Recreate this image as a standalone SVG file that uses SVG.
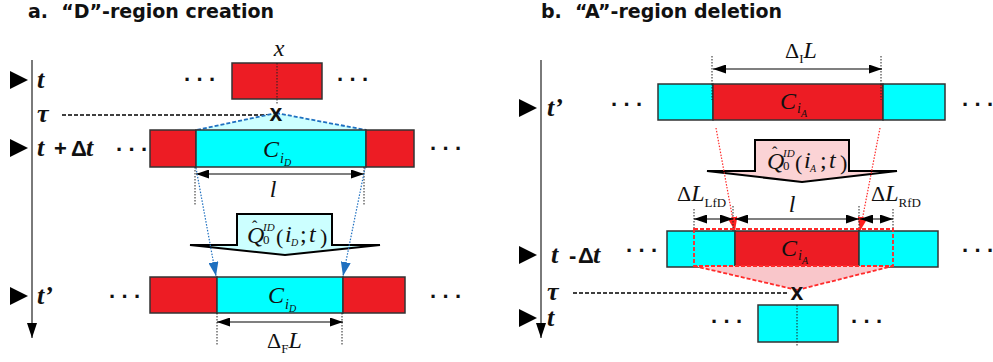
<svg xmlns="http://www.w3.org/2000/svg" width="993" height="362" viewBox="0 0 993 362">
  <style>
    .title { font-family: "DejaVu Sans", "Liberation Sans", sans-serif; font-weight: bold; font-size: 19px; fill: #111; }
    .tl { font-family: "Liberation Serif", serif; font-weight: bold; font-style: italic; font-size: 26px; fill: #111; }
    .op { font-family: "Liberation Sans", sans-serif; font-weight: bold; font-size: 22px; fill: #111; }
    .m { font-family: "Liberation Serif", serif; font-style: italic; font-size: 24px; fill: #111; }
    .up { font-family: "Liberation Serif", serif; font-size: 22px; fill: #111; }
    .dots { font-family: "Liberation Sans", sans-serif; font-weight: bold; font-size: 22px; letter-spacing: -0.5px; fill: #111; }
    .cross { font-family: "Liberation Sans", sans-serif; font-weight: bold; font-size: 23px; fill: #111; text-anchor: middle; }
    .red { fill: #ed1c24; stroke: #333; stroke-width: 1.5; }
    .cyan { fill: #00ffff; stroke: #333; stroke-width: 1.5; }
    .axis { stroke: #7a7a7a; stroke-width: 2; fill: none; }
    .tick { fill: #000; }
    .dim { stroke: #000; stroke-width: 1.2; fill: none; }
    .ext { stroke: #222; stroke-width: 1; stroke-dasharray: 1.5 1.5; fill: none; }
    .tau { stroke: #000; stroke-width: 1.5; stroke-dasharray: 4 2; fill: none; }
    .bdash { stroke: #1f70c0; stroke-width: 1.8; stroke-dasharray: 4 2; }
    .bdot { stroke: #1f70c0; stroke-width: 1.2; stroke-dasharray: 1.5 1.5; fill: none; }
    .rdash { stroke: #ff2a2a; stroke-width: 1.8; stroke-dasharray: 4 2; }
    .rdot { stroke: #ff2a2a; stroke-width: 1.2; stroke-dasharray: 1.5 1.5; fill: none; }
    .block { stroke: #000; stroke-width: 2; stroke-linejoin: miter; }
  </style>
  <defs>
    <marker id="ah" viewBox="0 0 13 9" refX="13" refY="4.5" markerWidth="13" markerHeight="9" markerUnits="userSpaceOnUse" orient="auto-start-reverse">
      <path d="M0,0 L13,4.5 L0,9 Z" fill="#000"/>
    </marker>
    <marker id="bh" viewBox="0 0 14 10" refX="14" refY="5" markerWidth="14" markerHeight="10" markerUnits="userSpaceOnUse" orient="auto">
      <path d="M0,0 L14,5 L0,10 Z" fill="#1f70c0"/>
    </marker>
    <marker id="rh" viewBox="0 0 14 10" refX="14" refY="5" markerWidth="14" markerHeight="10" markerUnits="userSpaceOnUse" orient="auto">
      <path d="M0,0 L14,5 L0,10 Z" fill="#ff2020"/>
    </marker>
    <marker id="axh" viewBox="0 0 10 15" refX="5" refY="15" markerWidth="10" markerHeight="15" markerUnits="userSpaceOnUse" orient="0">
      <path d="M0,0 L10,0 L5,15 Z" fill="#000"/>
    </marker>
  </defs>

  <!-- ===== Panel a: D-region creation ===== -->
  <text class="title" x="28" y="18" xml:space="preserve">a.  “D”-region creation</text>

  <g id="a-timeline">
    <line class="axis" x1="32" y1="60" x2="32" y2="338" marker-end="url(#axh)"/>
    <path class="tick" d="M10,71 L28,80 L10,89 Z"/>
    <path class="tick" d="M10,139 L28,148 L10,157 Z"/>
    <path class="tick" d="M10,287 L28,296 L10,305 Z"/>
    <text class="tl" x="37" y="88">t</text>
    <text class="tl" x="37" y="122">τ</text>
    <text x="37" y="156"><tspan class="tl">t</tspan><tspan class="op" x="54">+</tspan><tspan class="op" x="71">Δ</tspan><tspan class="tl" x="86">t</tspan></text>
    <text class="tl" x="37" y="304">t’</text>
  </g>

  <!-- row t -->
  <g id="a-row-t">
    <rect class="red" x="232" y="63" width="90" height="36"/>
    <line class="ext" x1="277" y1="63" x2="277" y2="104"/>
    <text class="m" x="279" y="56" text-anchor="middle" font-size="20">x</text>
    <text class="dots" x="184" y="87">· · ·</text>
    <text class="dots" x="337" y="87">· · ·</text>
  </g>

  <!-- tau cut and the cyan spread triangle -->
  <g id="a-tau">
    <line class="tau" x1="62" y1="115" x2="268" y2="115"/>
    <path d="M197,130 L276,113 L366,130 Z" fill="#ccffff"/>
    <line class="bdash" x1="197" y1="130" x2="276" y2="113"/>
    <line class="bdash" x1="276" y1="113" x2="366" y2="130"/>
    <text class="cross" x="276" y="121">x</text>
  </g>

  <!-- row t + Δt -->
  <g id="a-row-tdt">
    <rect class="red" x="150" y="130" width="46" height="37"/>
    <rect class="cyan" x="196" y="130" width="170" height="37"/>
    <rect class="red" x="366" y="130" width="48" height="37"/>
    <text class="m" x="263" y="157">C<tspan font-size="14" dx="1" dy="6">i</tspan><tspan font-size="10" dy="3">D</tspan></text>
    <text class="dots" x="116" y="157">· · ·</text>
    <text class="dots" x="430" y="156">· · ·</text>
  </g>

  <!-- length l -->
  <g id="a-dim-l">
    <line class="ext" x1="195" y1="167" x2="195" y2="206"/>
    <line class="ext" x1="364" y1="167" x2="364" y2="206"/>
    <line class="dim" x1="196" y1="174" x2="364" y2="174" marker-start="url(#ah)" marker-end="url(#ah)"/>
    <text class="m" x="273" y="197" text-anchor="middle">l</text>
  </g>

  <!-- operator block arrow -->
  <g id="a-operator">
    <path class="block" d="M190,245 L237,245 L237,214 L332,214 L332,245 L380,245 L285,255 Z" fill="#ccffff"/>
    <text class="m" font-size="21">
      <tspan x="247" y="243">Q</tspan>
      <tspan x="252" y="232" font-style="normal" font-size="16">ˆ</tspan>
      <tspan x="263" y="231" font-size="11">ID</tspan>
      <tspan x="263" y="244" font-style="normal" font-size="13">0</tspan>
      <tspan x="276" y="244" font-style="normal" font-size="22">(</tspan>
      <tspan x="285" y="242">i</tspan>
      <tspan x="291" y="246" font-size="10">D</tspan>
      <tspan x="300" y="242" font-style="normal">;</tspan>
      <tspan x="309" y="242">t</tspan>
      <tspan x="320" y="244" font-style="normal" font-size="22">)</tspan>
    </text>
  </g>

  <!-- boundary mapping -->
  <g id="a-connectors">
    <line class="bdot" x1="196" y1="168" x2="216" y2="276" marker-end="url(#bh)"/>
    <line class="bdot" x1="365" y1="168" x2="343" y2="276" marker-end="url(#bh)"/>
  </g>

  <!-- row t' -->
  <g id="a-row-tp">
    <rect class="red" x="150" y="277" width="67" height="36"/>
    <rect class="cyan" x="217" y="277" width="126" height="36"/>
    <rect class="red" x="343" y="277" width="62" height="36"/>
    <text class="m" x="268" y="303">C<tspan font-size="14" dx="1" dy="6">i</tspan><tspan font-size="10" dy="3">D</tspan></text>
    <text class="dots" x="109" y="304">· · ·</text>
    <text class="dots" x="430" y="304">· · ·</text>
  </g>

  <!-- length Δ_F L -->
  <g id="a-dim-dfl">
    <line class="ext" x1="217" y1="313" x2="217" y2="346"/>
    <line class="ext" x1="342" y1="313" x2="342" y2="346"/>
    <line class="dim" x1="217" y1="322" x2="343" y2="322" marker-start="url(#ah)" marker-end="url(#ah)"/>
    <text class="up" x="267" y="348">Δ<tspan font-size="13" dy="5">F</tspan><tspan class="m" font-size="23" dy="-5">L</tspan></text>
  </g>

  <!-- ===== Panel b: A-region deletion ===== -->
  <text class="title" x="541" y="18" xml:space="preserve">b.  “A”-region deletion</text>

  <g id="b-timeline">
    <line class="axis" x1="541" y1="60" x2="541" y2="338" marker-end="url(#axh)"/>
    <path class="tick" d="M519,99 L537,108 L519,117 Z"/>
    <path class="tick" d="M519,246 L537,255 L519,264 Z"/>
    <path class="tick" d="M519,309 L537,318 L519,327 Z"/>
    <text class="tl" x="547" y="116">t’</text>
    <text x="551" y="263"><tspan class="tl">t</tspan><tspan class="op" x="569">-</tspan><tspan class="op" x="578">Δ</tspan><tspan class="tl" x="593">t</tspan></text>
    <text class="tl" x="547" y="300">τ</text>
    <text class="tl" x="547" y="326">t</text>
  </g>

  <!-- length Δ_I L -->
  <g id="b-dim-dil">
    <line class="ext" x1="712" y1="56" x2="712" y2="100"/>
    <line class="ext" x1="881" y1="56" x2="881" y2="100"/>
    <line class="dim" x1="713" y1="69" x2="882" y2="69" marker-start="url(#ah)" marker-end="url(#ah)"/>
    <text class="up" x="785" y="58">Δ<tspan font-size="13" dy="5">I</tspan><tspan class="m" font-size="23" dy="-5">L</tspan></text>
  </g>

  <!-- row t' -->
  <g id="b-row-tp">
    <rect class="cyan" x="658" y="84" width="55" height="36"/>
    <rect class="red" x="713" y="84" width="170" height="36"/>
    <rect class="cyan" x="883" y="84" width="62" height="36"/>
    <line class="ext" x1="712" y1="84" x2="712" y2="100"/>
    <line class="ext" x1="881" y1="84" x2="881" y2="100"/>
    <text class="m" x="780" y="109">C<tspan font-size="14" dx="1" dy="4">i</tspan><tspan font-size="10" dy="4">A</tspan></text>
    <text class="dots" x="611" y="112">· · ·</text>
    <text class="dots" x="962" y="112">· · ·</text>
  </g>

  <!-- operator block arrow -->
  <g id="b-operator">
    <path class="block" d="M707,171 L755,171 L755,140 L849,140 L849,171 L897,171 L802,182 Z" fill="#fbd3d5"/>
    <text class="m" font-size="21">
      <tspan x="767" y="169">Q</tspan>
      <tspan x="772" y="158" font-style="normal" font-size="16">ˆ</tspan>
      <tspan x="783" y="157" font-size="11">ID</tspan>
      <tspan x="783" y="170" font-style="normal" font-size="13">0</tspan>
      <tspan x="795" y="170" font-style="normal" font-size="22">(</tspan>
      <tspan x="804" y="168">i</tspan>
      <tspan x="810" y="172" font-size="10">A</tspan>
      <tspan x="820" y="168" font-style="normal">;</tspan>
      <tspan x="829" y="168">t</tspan>
      <tspan x="840" y="170" font-style="normal" font-size="22">)</tspan>
    </text>
  </g>

  <!-- boundary mapping -->
  <g id="b-connectors">
    <line class="rdot" x1="716" y1="128" x2="735" y2="231" marker-end="url(#rh)"/>
    <line class="rdot" x1="880" y1="128" x2="860" y2="231" marker-end="url(#rh)"/>
  </g>

  <!-- row t - Δt -->
  <g id="b-row-tmdt">
    <rect class="cyan" x="667" y="231" width="68" height="36"/>
    <rect class="red" x="735" y="231" width="124" height="36"/>
    <rect class="cyan" x="859" y="231" width="79" height="36"/>
    <text class="m" x="781" y="256">C<tspan font-size="14" dx="1" dy="4">i</tspan><tspan font-size="10" dy="4">A</tspan></text>
    <text class="dots" x="626" y="258">· · ·</text>
    <text class="dots" x="962" y="258">· · ·</text>
  </g>

  <!-- dimensions above row t - Δt -->
  <g id="b-dims">
    <line class="ext" x1="694" y1="209" x2="694" y2="231"/>
    <line class="ext" x1="733" y1="206" x2="733" y2="231"/>
    <line class="ext" x1="859" y1="206" x2="859" y2="231"/>
    <line class="ext" x1="893" y1="209" x2="893" y2="231"/>
    <line class="dim" x1="694" y1="219" x2="733" y2="219" marker-start="url(#ah)" marker-end="url(#ah)"/>
    <line class="dim" x1="735" y1="219" x2="859" y2="219" marker-start="url(#ah)" marker-end="url(#ah)"/>
    <line class="dim" x1="860" y1="219" x2="893" y2="219" marker-start="url(#ah)" marker-end="url(#ah)"/>
    <text class="up" x="677" y="201">Δ<tspan class="m" font-size="23">L</tspan><tspan font-size="13" dy="6">LfD</tspan></text>
    <text class="m" x="792" y="212" text-anchor="middle">l</text>
    <text class="up" x="871" y="201">Δ<tspan class="m" font-size="23">L</tspan><tspan font-size="13" dy="6">RfD</tspan></text>
  </g>

  <!-- deleted span, collapse triangle and tau cut -->
  <g id="b-tau">
    <path d="M694,266 L797,290 L893,266 Z" fill="#f9c6ca"/>
    <rect x="694" y="229" width="199" height="37" fill="none" class="rdash"/>
    <line class="rdash" x1="694" y1="266" x2="797" y2="290"/>
    <line class="rdash" x1="797" y1="290" x2="893" y2="266"/>
    <line class="tau" x1="573" y1="293" x2="789" y2="293"/>
    <text class="cross" x="797" y="300">x</text>
  </g>

  <!-- row t -->
  <g id="b-row-t">
    <rect class="cyan" x="758" y="305" width="80" height="37"/>
    <line class="ext" x1="797" y1="305" x2="797" y2="346"/>
    <text class="dots" x="711" y="329">· · ·</text>
    <text class="dots" x="851" y="329">· · ·</text>
  </g>
</svg>
